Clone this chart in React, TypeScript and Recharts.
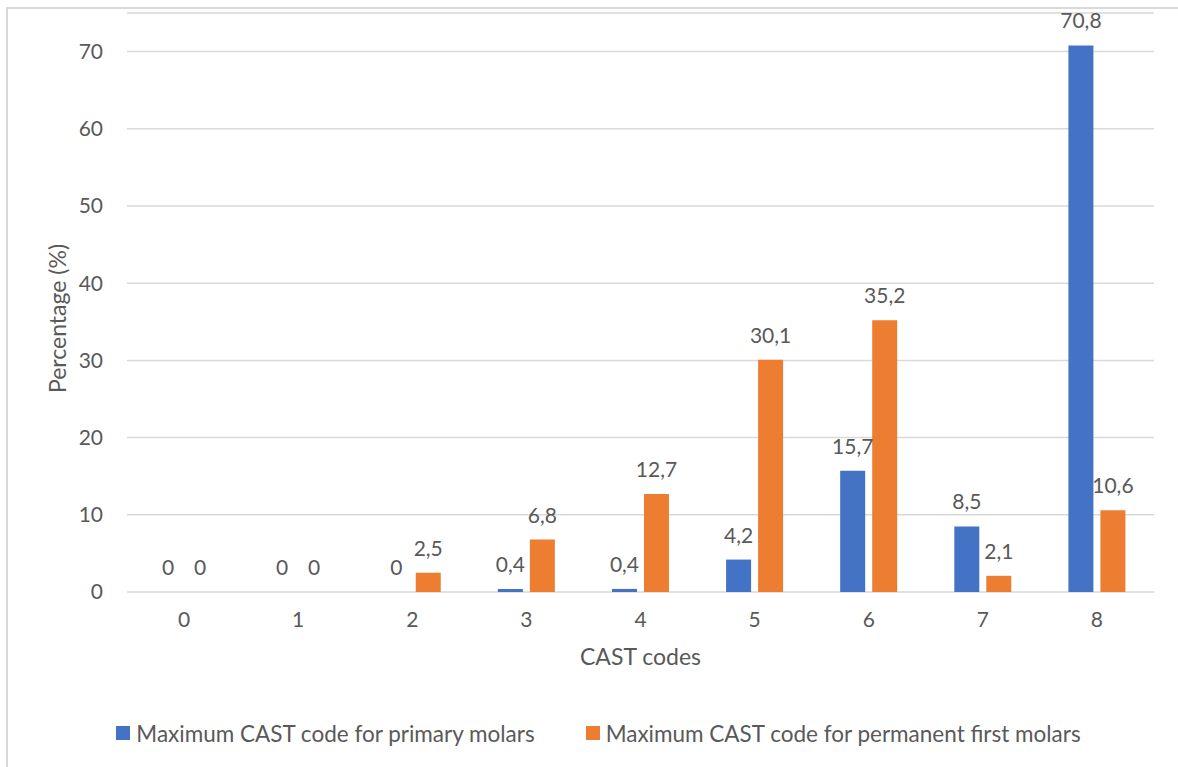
import { Bar, BarChart, CartesianGrid, LabelList, Legend, XAxis, YAxis } from 'recharts';

const categories = ['0', '1', '2', '3', '4', '5', '6', '7', '8'];
const primaryMolars = [0, 0, 0, 0.4, 0.4, 4.2, 15.7, 8.5, 70.8];
const permanentMolars = [0, 0, 2.5, 6.8, 12.7, 30.1, 35.2, 2.1, 10.6];
const yTicks = [0, 10, 20, 30, 40, 50, 60, 70];

const PRIMARY_NAME = 'Maximum CAST code for primary molars';
const PERMANENT_NAME = 'Maximum CAST code for permanent first molars';

const data = categories.map((code, i) => ({
  code,
  primary: primaryMolars[i],
  permanent: permanentMolars[i],
}));

const FONT = 'Lato, "Noto Sans", sans-serif';
const TEXT = '#595959';
const BLUE = '#4472C4';
const ORANGE = '#ED7D31';

const fmt = (v: any) => String(v).replace('.', ',');

function LegendContent() {
  const items = [
    { name: PRIMARY_NAME, color: BLUE },
    { name: PERMANENT_NAME, color: ORANGE },
  ];
  return (
    <div
      style={{
        display: 'flex',
        justifyContent: 'center',
        alignItems: 'center',
        height: 40,
        gap: 51,
        paddingLeft: 43,
        fontFamily: FONT,
        fontSize: 22.5,
        color: TEXT,
      }}
    >
      {items.map((it) => (
        <div key={it.name} style={{ display: 'flex', alignItems: 'center' }}>
          <span style={{ width: 14, height: 14, background: it.color, marginRight: 6 }} />
          <span>{it.name}</span>
        </div>
      ))}
    </div>
  );
}

export default function App() {
  return (
    <div style={{ position: 'absolute', left: 0, top: 0, width: 1178, height: 767, background: '#fff' }}>
      <div
        style={{
          position: 'absolute',
          left: 6,
          top: 7,
          right: 0,
          bottom: 0,
          borderLeft: '2px solid #d9d9d9',
          borderTop: '2px solid #d9d9d9',
        }}
      />
      <BarChart
        width={1178}
        height={767}
        data={data}
        margin={{ top: 13, right: 24, bottom: 14, left: 0 }}
        barCategoryGap="25%"
        barGap={7}
        style={{ position: 'absolute', left: 0, top: 0, fontFamily: FONT }}
      >
        <CartesianGrid vertical={false} stroke="#d9d9d9" strokeWidth={1.5} />
        <XAxis
          dataKey="code"
          height={121}
          axisLine={false}
          tickLine={false}
          tickSize={0}
          tickMargin={20}
          tick={{ fill: TEXT, fontSize: 21 }}
          label={{ value: 'CAST codes', position: 'insideTop', offset: 57, fill: TEXT, fontSize: 23 }}
        />
        <YAxis
          width={127}
          domain={[0, 75]}
          ticks={yTicks}
          axisLine={false}
          tickLine={false}
          tickSize={0}
          tickMargin={24}
          tick={{ fill: TEXT, fontSize: 21 }}
          label={{
            value: 'Percentage (%)',
            angle: -90,
            position: 'insideLeft',
            offset: 58,
            fill: TEXT,
            fontSize: 23,
            style: { textAnchor: 'middle' },
            dy: 16,
          }}
        />
        <Legend verticalAlign="bottom" content={<LegendContent />} />
        <Bar dataKey="primary" name={PRIMARY_NAME} fill={BLUE} minPointSize={0.01} isAnimationActive={false}>
          <LabelList dataKey="primary" position="top" offset={17} formatter={fmt} fill={TEXT} fontSize={21} />
        </Bar>
        <Bar dataKey="permanent" name={PERMANENT_NAME} fill={ORANGE} minPointSize={0.01} isAnimationActive={false}>
          <LabelList dataKey="permanent" position="top" offset={17} formatter={fmt} fill={TEXT} fontSize={21} />
        </Bar>
      </BarChart>
    </div>
  );
}
